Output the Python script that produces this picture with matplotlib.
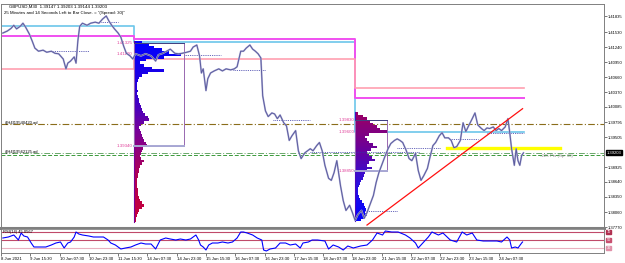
import numpy as np
import matplotlib.pyplot as plt
from matplotlib.colors import LinearSegmentedColormap
from matplotlib.patches import Rectangle

plt.rcParams.update({
    'font.family': ['Liberation Sans', 'DejaVu Sans'],
    'font.size': 3.4,
})

# ---- price (M30 closes, bar index -> price) ----
price_t = [2, 7, 11, 14, 17, 21, 24, 27, 31, 34,
           37, 41, 46, 50, 55, 59, 63, 68, 71, 73,
           76, 80, 82, 84, 86, 89, 94, 98, 103, 107,
           111, 115, 118, 121, 124, 128, 131, 134, 137, 141,
           144, 147, 153, 158, 164, 169, 172, 177, 181, 185,
           190, 194, 198, 203, 207, 210, 214, 217, 219, 221,
           224, 226, 229, 233, 238, 242, 246, 251, 255, 258,
           262, 265, 268, 272, 275, 278, 281, 284, 286, 289,
           292, 296, 299, 302, 305, 309, 312, 315, 318, 322,
           325, 328, 332, 335, 338, 341, 345, 348, 351, 354,
           358, 361, 364, 367, 371, 374, 377, 381, 384, 387,
           390, 394, 397, 400, 403, 407, 410, 413, 417, 420,
           423, 426, 430, 433, 436, 439, 443, 446, 449, 453,
           456, 459, 462, 466, 469, 472, 475, 479, 482, 485,
           489, 492, 495, 498, 502, 505, 508, 511, 515, 518,
           521, 525, 528, 531, 534, 538, 541, 544, 547, 551,
           554, 556, 558, 561, 563, 565, 567, 569, 571]
price = [1.4151, 1.4155, 1.4160, 1.4166, 1.4159, 1.4164, 1.4170, 1.4162, 1.4149, 1.4136,
         1.4122, 1.4116, 1.4118, 1.4114, 1.4116, 1.4112, 1.4111, 1.4101, 1.4082, 1.4093,
         1.4097, 1.4105, 1.4093, 1.4136, 1.4164, 1.4170, 1.4166, 1.4170, 1.4172, 1.4170,
         1.4178, 1.4184, 1.4174, 1.4166, 1.4159, 1.4151, 1.4143, 1.4126, 1.4112, 1.4107,
         1.4101, 1.4111, 1.4107, 1.4111, 1.4107, 1.4097, 1.4109, 1.4112, 1.4116, 1.4120,
         1.4112, 1.4111, 1.4112, 1.4114, 1.4116, 1.4124, 1.4128, 1.4107, 1.4074, 1.4082,
         1.4040, 1.4063, 1.4074, 1.4078, 1.4082, 1.4078, 1.4082, 1.4080, 1.4082, 1.4086,
         1.4116, 1.4116, 1.4122, 1.4128, 1.4120, 1.4116, 1.4111, 1.4103, 1.4030, 1.4001,
         1.3990, 1.3997, 1.3995, 1.3986, 1.3993, 1.3978, 1.3972, 1.3944, 1.3953, 1.3963,
         1.3924, 1.3909, 1.3920, 1.3924, 1.3928, 1.3924, 1.3934, 1.3940, 1.3924, 1.3896,
         1.3871, 1.3867, 1.3882, 1.3905, 1.3857, 1.3828, 1.3809, 1.3819, 1.3805, 1.3790,
         1.3801, 1.3809, 1.3794, 1.3805, 1.3819, 1.3838, 1.3863, 1.3882, 1.3901, 1.3915,
         1.3928, 1.3938, 1.3944, 1.3947, 1.3944, 1.3940, 1.3924, 1.3909, 1.3905, 1.3919,
         1.3886, 1.3867, 1.3876, 1.3890, 1.3913, 1.3934, 1.3940, 1.3953, 1.3959, 1.3949,
         1.3949, 1.3944, 1.3930, 1.3932, 1.3944, 1.3978, 1.3961, 1.3972, 1.3986, 1.3997,
         1.3974, 1.3967, 1.3963, 1.3968, 1.3967, 1.3970, 1.3963, 1.3967, 1.3963, 1.3970,
         1.3986, 1.3959, 1.3928, 1.3896, 1.3928, 1.3905, 1.3896, 1.3915, 1.3920]

# ---- RSI(14) ----
rsi_t = [2, 8, 14, 19, 22, 25, 29, 33, 36, 44, 49, 55, 60, 65, 69, 73, 76, 80, 82, 85,
         89, 96, 101, 107, 112, 117, 120, 125, 131, 136, 142, 147, 153, 158, 164, 169,
         174, 180, 185, 191, 196, 202, 207, 213, 216, 218, 221, 224, 227, 231, 237, 242,
         248, 253, 258, 262, 265, 269, 275, 280, 285, 287, 290, 294, 300, 305, 311, 316,
         322, 327, 330, 336, 340, 346, 354, 358, 363, 369, 374, 379, 385, 393, 400, 406,
         411, 417, 420, 427, 434, 442, 447, 453, 456, 461, 467, 471, 478, 483, 491, 498,
         504, 509, 515, 520, 527, 534, 542, 547, 553, 556, 558, 562, 565, 569, 570]
rsi = [55, 57.5, 62.5, 50, 67.5, 60, 57.5, 42.5, 32.5, 32.5, 32.5, 37.5, 42.5, 45, 30,
       42.5, 45, 57.5, 70, 65, 62.5, 60, 57.5, 57.5, 57.5, 50, 42.5, 37.5, 27.5, 30,
       32.5, 37.5, 42.5, 40, 40, 27.5, 50, 55, 52.5, 50, 52.5, 50, 52.5, 62.5, 50, 37.5,
       32.5, 25, 37.5, 42.5, 42.5, 45, 42.5, 45, 55, 70, 70, 67.5, 62.5, 55, 50, 25,
       22.5, 27.5, 30, 42.5, 42.5, 37.5, 40, 30, 42.5, 45, 50, 50, 47.5, 27.5, 37.5,
       32.5, 25, 35, 30, 35, 37.5, 50, 67.5, 62.5, 72.5, 70, 70, 62.5, 55, 42.5, 30,
       42.5, 57.5, 70, 62.5, 67.5, 50, 45, 70, 62.5, 67.5, 50, 47.5, 47.5, 47.5, 45,
       57.5, 50, 30, 32.5, 30, 42.5, 45.0567]
rsi_levels = [70, 50, 30]

# ---- session levels (step lines): start bars of each session ----
session_t = [0, 145, 387, 572]
level_cyan = [1.41643, 1.41342, 1.39608]
level_magenta = [1.41452, 1.41394, 1.40261]
level_pink = [1.40817, 1.41009, 1.40453]

# ---- volume profiles ----
bin_size = 0.0005
vp1_start, vp1_top = 145, 1.4134
vp1_vol = [8, 15, 20, 28, 35, 47, 30, 12, 6, 10, 18, 30, 14, 8, 5, 4, 3, 3, 3, 4,
           3, 4, 5, 5, 6, 7, 8, 9, 11, 14, 15, 10, 7, 5, 6, 7, 8, 9, 10, 12,
           13, 9, 8, 7, 6, 7, 10, 8, 6, 5, 5, 4, 4, 3, 3, 3, 3, 4, 4, 4,
           5, 6, 8, 10, 8, 5, 4, 3, 2, 2]
vp1_box = (200, 1.41325, 1.39340)
vp1_labels = ['1.41325', '1.41100', '1.39340']
vp2_start, vp2_top = 387, 1.3996
vp2_vol = [3, 8, 12, 15, 18, 22, 25, 32, 14, 10, 12, 14, 18, 22, 16, 12, 14, 17, 20, 14,
           12, 17, 12, 10, 9, 8, 6, 5, 4, 3, 3, 3, 4, 5, 7, 9, 10, 11, 10, 12, 9, 6]
vp2_box = (422, 1.39830, 1.38850)
vp2_labels = ['1.39830', '1.39600', '1.38850']

# ---- other drawn objects ----
dotted_levels = [(55, 96, 1.41164), (109, 128, 1.41720), (200, 240, 1.41087),
                 (254, 289, 1.40800), (297, 338, 1.39841), (398, 433, 1.38078),
                 (433, 480, 1.39285), (491, 521, 1.39477), (531, 572, 1.39592),
                 (338, 458, 1.39209)]
olive_level = 1.39765
green_levels = [1.39195, 1.39151]
yellow_t, yellow_p = [487, 611], 1.39285
trend_t, trend_p = [400, 570], [1.37809, 1.40052]
bid = 1.39203

price_ticks = [1.41835, 1.41530, 1.41240, 1.40950, 1.40660, 1.40370, 1.40085,
               1.39795, 1.39505, 1.38925, 1.38640, 1.38350, 1.38060, 1.37770]
time_labels = ['8 Jun 2021', '9 Jun 15:30', '10 Jun 07:30', '10 Jun 23:30', '11 Jun 15:30',
               '14 Jun 07:30', '14 Jun 23:30', '15 Jun 15:30', '16 Jun 07:30', '16 Jun 23:30',
               '17 Jun 15:30', '18 Jun 07:30', '18 Jun 23:30', '21 Jun 15:30', '22 Jun 07:30',
               '22 Jun 23:30', '23 Jun 15:30', '24 Jun 07:30']
time_ticks = [32 * i for i in range(len(time_labels))]

# ---------------------------------------------------------------------------
W, H = 625, 263
fig = plt.figure(figsize=(W / 100, H / 100), dpi=100)
ax = fig.add_axes([1 / W, 35 / H, 603 / W, 224 / H])
ax2 = fig.add_axes([1 / W, 10 / H, 603 / W, 24 / H], sharex=ax)

XMAX = 659
ax.set_xlim(0, XMAX)
ax.set_ylim(1.37752, 1.42070)

for a in (ax, ax2):
    for s in a.spines.values():
        s.set_color('#808080')
        s.set_linewidth(0.7)
ax.spines['bottom'].set_linewidth(2.2)
ax2.spines['top'].set_linewidth(1.2)

# session step lines
ax.step(session_t, level_cyan + [level_cyan[-1]], where='post', color='#6cc6ea', lw=1.2, zorder=2)
ax.step(session_t, level_magenta + [level_magenta[-1]], where='post', color='#f050f0', lw=1.4, zorder=2)
ax.step(session_t, level_pink + [level_pink[-1]], where='post', color='#ff9fb0', lw=1.2, zorder=2)

# volume profiles
cm1 = LinearSegmentedColormap.from_list('vp1', ['#0000ff', '#2400dc', '#780098', '#b00052', '#c8003a'])
cm2 = LinearSegmentedColormap.from_list('vp2', ['#9a0064', '#6a009a', '#2a10e0', '#0000ff'])
for start, top, vol, cm in ((vp1_start, vp1_top, vp1_vol, cm1), (vp2_start, vp2_top, vp2_vol, cm2)):
    n = len(vol)
    levels = top - bin_size * np.arange(n)
    ax.barh(levels, np.array(vol) * 1.09, left=start, height=bin_size,
            color=cm(np.linspace(0, 1, n)), linewidth=0, zorder=3)
    ax.plot([start, start], [levels[-1] - bin_size / 2, levels[0] + bin_size / 2],
            color=cm(0.5), lw=0.8, zorder=3)

for start, box, labels in ((vp1_start, vp1_box, vp1_labels), (vp2_start, vp2_box, vp2_labels)):
    right, top, bottom = box
    ax.add_patch(Rectangle((start, bottom), right - start, top - bottom, fill=False,
                           edgecolor='#9868b0', lw=0.7, zorder=4))
    ax.plot([start, right], [top, top], color='#404080', lw=0.7, zorder=4)
    ax.plot([start, right], [bottom, bottom], color='#a8a8d4', lw=1.4, zorder=4)
    for lab in labels:
        ax.text(start - 1, float(lab), lab, color='#e0409a', ha='right', va='center',
                fontsize=3.2, zorder=5)

# full-width levels
ax.axhline(olive_level, color='#8a6d1a', lw=0.8, ls=(0, (6, 2, 1, 2)), zorder=2)
ax.axhline(green_levels[0], color='#6aa86a', lw=0.7, ls=(0, (6, 2, 1, 2)), zorder=2)
ax.axhline(green_levels[1], color='#3a9a3a', lw=0.7, ls=(0, (4, 2)), zorder=2)
ax.text(4, olive_level + 0.0002, '#[H4]19540420.ad', fontsize=3.0, va='center', color='black')
ax.text(4, green_levels[0] + 0.0003, '#[H4]19562125.ad', fontsize=3.0, va='center', color='black')

for t0, t1, p in dotted_levels:
    ax.plot([t0, t1], [p, p], color='#3434a4', lw=0.6, ls=(0, (1, 1.2)), zorder=3)

ax.plot(yellow_t, [yellow_p, yellow_p], color='#ffff00', lw=2.4, zorder=3)

# price
ax.plot(price_t, price, color='#b4b4da', lw=1.3, zorder=5, solid_joinstyle='round')
ax.plot(price_t, price, color='#5c5c9e', lw=0.7, zorder=5)

ax.plot(trend_t, trend_p, color='#ff1010', lw=0.9, zorder=6)
ax.text(589, 1.39140, '-225 Pts (Sp: 30)', color='#909090', fontsize=3.2, va='center')

# header text
ax.text(0.014, 0.989, 'GBPUSD,M30  1.39147 1.39203 1.39144 1.39203', transform=ax.transAxes,
        fontsize=3.2, va='center', ha='left')
ax.text(0.005, 0.962, '25 Minutes and 14 Seconds Left to Bar Close. = "(Spread: 30)"',
        transform=ax.transAxes, fontsize=3.2, va='center', ha='left')

# price axis
ax.yaxis.tick_right()
ax.set_yticks(price_ticks)
ax.set_yticklabels([f'{v:.5f}' for v in price_ticks])
ax.tick_params(axis='y', length=2, width=0.5, pad=1, labelsize=3.0, color='#404040')
ax.tick_params(axis='x', bottom=False, labelbottom=False)
ax.text(1.004, bid, f'{bid:.5f}', transform=ax.get_yaxis_transform(), color='white',
        fontsize=3.0, va='center', ha='left',
        bbox=dict(boxstyle='square,pad=0.15', fc='black', ec='black'))

# RSI panel
ax2.set_ylim(17.5, 77.5)
for lvl, c in zip(rsi_levels, ['#c04a6a', '#c04a6a', '#eab0bf']):
    ax2.axhline(lvl, color=c, lw=0.8, zorder=1)
ax2.plot(rsi_t, rsi, color='#0000ff', lw=0.8, zorder=3)
ax2.text(0.004, 0.87, f'RSI(14) {rsi[-1]:.4f}', transform=ax2.transAxes, fontsize=3.0, va='center')
ax2.set_yticks([])
for lvl, c in zip(rsi_levels, ['#b03050', '#c85070', '#e090a8']):
    ax2.text(1.004, lvl, str(lvl), transform=ax2.get_yaxis_transform(), color='white',
             fontsize=2.8, va='center', ha='left',
             bbox=dict(boxstyle='square,pad=0.1', fc=c, ec=c))

ax2.set_xticks(time_ticks)
ax2.set_xticklabels(time_labels)
ax2.tick_params(axis='x', length=2, width=0.5, pad=1, labelsize=3.1, color='#404040')
plt.setp(ax2.get_xticklabels(), ha='left')

fig.savefig('out.png', dpi=100)
